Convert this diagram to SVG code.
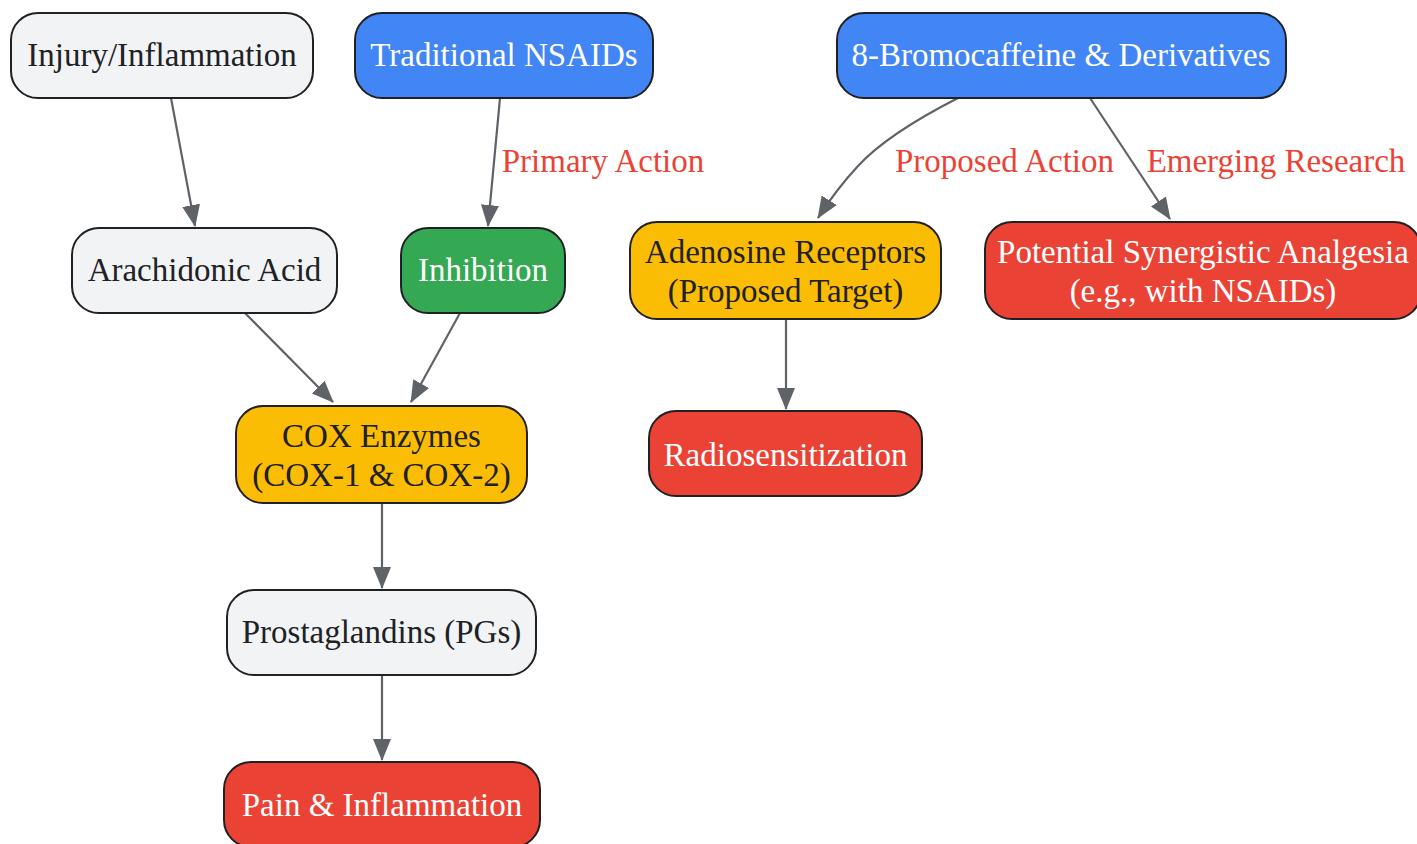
<svg xmlns="http://www.w3.org/2000/svg" width="1417" height="844" viewBox="0 0 1417 844">
<style>
  .n rect { stroke: #202124; stroke-width: 2; }
  .grey rect { fill: #f1f3f4; }
  .blue rect { fill: #4285f4; }
  .green rect { fill: #34a853; }
  .yellow rect { fill: #fbbc04; }
  .red rect { fill: #ea4335; }
  text { font-family: "Liberation Serif", "Times New Roman", serif; font-size: 33px; text-anchor: middle; }
  .grey text, .yellow text { fill: #202124; }
  .blue text, .green text, .red text { fill: #ffffff; }
  .edges path { fill: none; stroke: #5f6368; stroke-width: 2.2; }
  .lbl { fill: #ea4335; }
</style>
<defs>
  <marker id="arr" viewBox="0 0 22 18" refX="21" refY="9" markerWidth="22" markerHeight="18" markerUnits="userSpaceOnUse" orient="auto">
    <path d="M0,0 L22,9 L0,18 Z" fill="#5f6368"/>
  </marker>
</defs>
<rect width="1417" height="844" fill="#ffffff"/>
<g class="edges">
  <path d="M171,98 L195,226" marker-end="url(#arr)"/>
  <path d="M500,98 L488,226" marker-end="url(#arr)"/>
  <path d="M245,313 L333,402" marker-end="url(#arr)"/>
  <path d="M460,313 L411,402" marker-end="url(#arr)"/>
  <path d="M382,503 L382,588" marker-end="url(#arr)"/>
  <path d="M382,675 L382,760" marker-end="url(#arr)"/>
  <path d="M958,98 C 915,120 880,142 858,166 C 845,180 832,196 818,218" marker-end="url(#arr)"/>
  <path d="M1090,98 L1170,219" marker-end="url(#arr)"/>
  <path d="M786,319 L786,409" marker-end="url(#arr)"/>
  <text class="lbl" x="603" y="172">Primary Action</text>
  <text class="lbl" x="1004.5" y="172">Proposed Action</text>
  <text class="lbl" x="1276" y="172">Emerging Research</text>
</g>
<g id="injury" class="n grey">
  <rect x="11" y="13" width="302" height="85" rx="27"/>
  <text x="162" y="66">Injury/Inflammation</text>
</g>
<g id="nsaids" class="n blue">
  <rect x="355" y="13" width="298" height="85" rx="27"/>
  <text x="504" y="66">Traditional NSAIDs</text>
</g>
<g id="bromo" class="n blue">
  <rect x="837" y="13" width="449" height="85" rx="27"/>
  <text x="1061" y="66">8-Bromocaffeine &amp; Derivatives</text>
</g>
<g id="arachidonic" class="n grey">
  <rect x="72" y="228" width="265" height="85" rx="27"/>
  <text x="204.5" y="281">Arachidonic Acid</text>
</g>
<g id="inhibition" class="n green">
  <rect x="401" y="228" width="164" height="85" rx="27"/>
  <text x="483" y="281">Inhibition</text>
</g>
<g id="adenosine" class="n yellow">
  <rect x="630" y="222" width="311" height="97" rx="27"/>
  <text x="785.5" y="263">Adenosine Receptors</text>
  <text x="785.5" y="302">(Proposed Target)</text>
</g>
<g id="synergy" class="n red">
  <rect x="985" y="222" width="436" height="97" rx="27"/>
  <text x="1203" y="263">Potential Synergistic Analgesia</text>
  <text x="1203" y="302">(e.g., with NSAIDs)</text>
</g>
<g id="cox" class="n yellow">
  <rect x="236" y="406" width="291" height="97" rx="27"/>
  <text x="381.5" y="447">COX Enzymes</text>
  <text x="381.5" y="486">(COX-1 &amp; COX-2)</text>
</g>
<g id="radio" class="n red">
  <rect x="649" y="411" width="273" height="85" rx="27"/>
  <text x="785.5" y="466">Radiosensitization</text>
</g>
<g id="pgs" class="n grey">
  <rect x="227" y="590" width="309" height="85" rx="27"/>
  <text x="381.5" y="643">Prostaglandins (PGs)</text>
</g>
<g id="pain" class="n red">
  <rect x="224" y="762" width="316" height="85" rx="27"/>
  <text x="382" y="816">Pain &amp; Inflammation</text>
</g>
</svg>
